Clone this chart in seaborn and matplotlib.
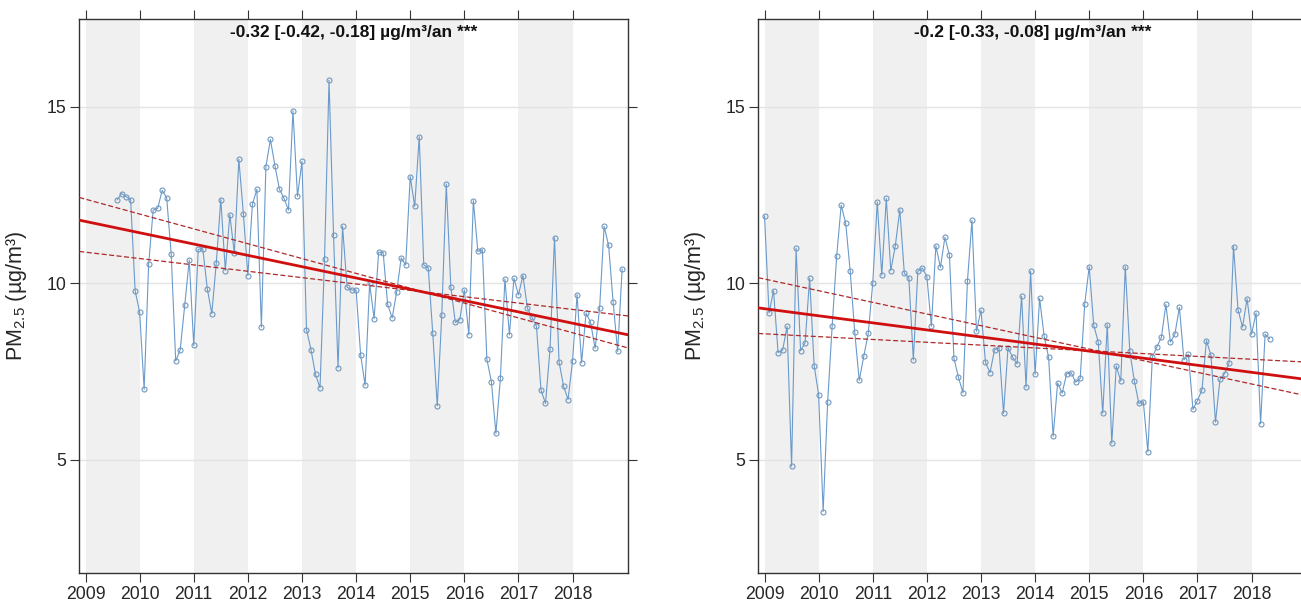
# Tendance PM2.5 (Theil-Sen) pour deux stations, valeurs mensuelles 2009-2018
import matplotlib
matplotlib.use('Agg')
import matplotlib.pyplot as plt
import seaborn as sns
import numpy as np
import pandas as pd

# Station 1 : août 2009 -> décembre 2018
debut_g = 2009 + 7 / 12
pm_g = [12.36, 12.54, 12.45, 12.37, 9.79,
        9.18, 7.0, 10.54, 12.07, 12.12, 12.63, 12.42, 10.82, 7.8, 8.12, 9.38, 10.66,
        8.24, 10.96, 10.98, 9.85, 9.14, 10.58, 12.37, 10.36, 11.94, 10.85, 13.51, 11.97,
        10.22, 12.23, 12.66, 8.76, 13.30, 14.07, 13.33, 12.66, 12.41, 12.07, 14.88, 12.46,
        13.45, 8.69, 8.12, 7.42, 7.04, 10.69, 15.75, 11.36, 7.61, 11.61, 9.89, 9.81,
        9.81, 7.98, 7.11, 10.0, 9.0, 10.88, 10.87, 9.40, 9.02, 9.76, 10.72, 10.52,
        13.02, 12.18, 14.15, 10.52, 10.44, 8.58, 6.53, 9.11, 12.81, 9.90, 8.89, 8.97,
        9.81, 8.54, 12.34, 10.90, 10.95, 7.85, 7.22, 5.75, 7.31, 10.12, 8.54, 10.14,
        9.67, 10.22, 9.29, 9.04, 8.78, 6.98, 6.60, 8.13, 11.29, 7.78, 7.09, 6.71,
        7.80, 9.68, 7.75, 9.16, 8.89, 8.16, 9.29, 11.61, 11.07, 9.46, 8.07, 10.41]

# Station 2 : janvier 2009 -> mai 2018
debut_d = 2009.0
pm_d = [11.91, 9.16, 9.79, 8.04, 8.10, 8.78, 4.82, 10.99, 8.09, 8.32, 10.14, 7.67,
        6.85, 3.54, 6.65, 8.80, 10.77, 12.21, 11.70, 10.34, 8.62, 7.25, 7.93, 8.58,
        10.01, 12.30, 10.23, 12.40, 10.36, 11.06, 12.08, 10.28, 10.16, 7.83, 10.34, 10.43,
        10.19, 8.78, 11.06, 10.45, 11.30, 10.80, 7.88, 7.34, 6.90, 10.07, 11.78, 8.64,
        9.24, 7.76, 7.47, 8.11, 8.18, 6.32, 8.18, 7.91, 7.72, 9.63, 7.06, 10.34,
        7.42, 9.57, 8.51, 7.90, 5.67, 7.18, 6.89, 7.44, 7.47, 7.20, 7.31, 9.41,
        10.47, 8.81, 8.34, 6.32, 8.83, 5.47, 7.66, 7.23, 10.47, 8.07, 7.24, 6.60,
        6.65, 5.23, 7.91, 8.20, 8.47, 9.40, 8.34, 8.56, 9.32, 7.83, 7.99, 6.43,
        6.68, 6.98, 8.38, 7.96, 6.07, 7.28, 7.44, 7.74, 11.04, 9.25, 8.76, 9.56,
        8.56, 9.16, 6.02, 8.56, 8.43]

# Pentes (µg/m³/an) et valeurs de la tendance en 2009 : [pente, borne basse, borne haute]
pentes_g = [-0.32, -0.42, -0.18]
origine_g = [11.75, 12.38, 10.88]
pentes_d = [-0.2, -0.33, -0.08]
origine_d = [9.28, 10.12, 8.57]

titres = ['-0.32 [-0.42, -0.18] µg/m³/an ***',
          '-0.2 [-0.33, -0.08] µg/m³/an ***']
annees = list(range(2009, 2019))
ylabel = 'PM$_{2.5}$ (µg/m³)'

sns.set_theme(style='white')
plt.rcParams['font.family'] = ['Liberation Sans', 'DejaVu Sans']
plt.rcParams['mathtext.fontset'] = 'custom'
plt.rcParams['mathtext.rm'] = 'Liberation Sans'
plt.rcParams['mathtext.it'] = 'Liberation Sans'

fig = plt.figure(figsize=(13.01, 6.02), dpi=100)
positions = [[0.06095, 0.04817, 0.42198, 0.92027],
             [0.58286, 0.04817, 0.42198, 0.92027]]
xlim = (2008.885, 2019.03)

series = [(debut_g, pm_g, pentes_g, origine_g), (debut_d, pm_d, pentes_d, origine_d)]

for pos, (debut, pm, pentes, origine), titre in zip(positions, series, titres):
    ax = fig.add_axes(pos)
    df = pd.DataFrame({'date': debut + np.arange(len(pm)) / 12, 'pm': pm})

    # bandes grises une année sur deux
    for a in annees[::2]:
        ax.axvspan(a, a + 1, color='#f0f0f0', lw=0, zorder=0)
    for yv in [5, 10, 15]:
        ax.axhline(yv, color='#e4e4e4', lw=1, zorder=0.5)

    sns.lineplot(data=df, x='date', y='pm', ax=ax, color='#6a9acb', lw=0.8,
                 marker='o', markersize=3.6, markerfacecolor='none',
                 markeredgecolor='#7398bd', markeredgewidth=0.8, zorder=2)

    xs = np.array(xlim)
    tend = pd.DataFrame({'date': xs,
                         'centre': origine[0] + pentes[0] * (xs - 2009),
                         'haut': origine[1] + pentes[1] * (xs - 2009),
                         'bas': origine[2] + pentes[2] * (xs - 2009)})
    sns.lineplot(data=tend, x='date', y='haut', ax=ax, color='#b02828', lw=0.9,
                 dashes=(4, 2), zorder=3)
    sns.lineplot(data=tend, x='date', y='bas', ax=ax, color='#b02828', lw=0.9,
                 dashes=(4, 2), zorder=3)
    sns.lineplot(data=tend, x='date', y='centre', ax=ax, color='#d01010', lw=2,
                 zorder=4)

    ax.set_xlim(*xlim)
    ax.set_ylim(1.8, 17.48)
    ax.set_xticks(annees)
    ax.set_xticklabels([str(a) for a in annees])
    ax.set_yticks([5, 10, 15])
    ax.tick_params(axis='both', which='both', direction='out', length=6.5,
                   width=0.8, color='#333333', labelsize=12.7, pad=3,
                   top=True, right=True, bottom=True, left=True,
                   labeltop=False, labelright=False)
    for s in ax.spines.values():
        s.set_color('#333333')
        s.set_linewidth(1)
    ax.set_xlabel('')
    ax.set_ylabel(ylabel, fontsize=15.5)
    ax.yaxis.set_label_coords(-0.092, 0.5)
    ax.text(0.5, 0.976, titre, transform=ax.transAxes, ha='center', va='center',
            fontsize=12.5, fontweight='bold', color='#111111')

plt.savefig('out.png', dpi=100)
plt.close()
